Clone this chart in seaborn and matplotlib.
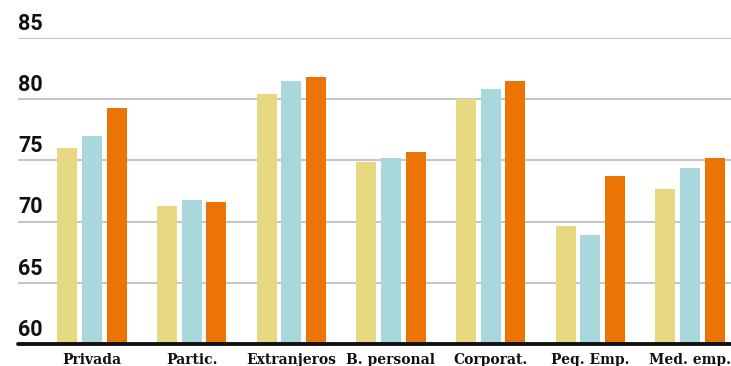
import matplotlib
matplotlib.use("Agg")
import matplotlib.pyplot as plt
import seaborn as sns
import pandas as pd

# Data
categories = ["Privada", "Partic.", "Extranjeros", "B. personal", "Corporat.", "Peq. Emp.", "Med. emp."]
serie_1 = [76.0, 71.3, 80.4, 74.9, 80.0, 69.6, 72.7]
serie_2 = [77.0, 71.8, 81.5, 75.2, 80.8, 68.9, 74.4]
serie_3 = [79.3, 71.6, 81.8, 75.7, 81.5, 73.7, 75.2]
series_names = ["Serie 1", "Serie 2", "Serie 3"]
y_ticks = [60, 65, 70, 75, 80, 85]

colors = ["#E6D981", "#A8D8DC", "#EB7405"]

df = pd.DataFrame({
    "categoria": categories * 3,
    "valor": serie_1 + serie_2 + serie_3,
    "serie": [series_names[0]] * 7 + [series_names[1]] * 7 + [series_names[2]] * 7,
})

sns.set_theme(style="white")
fig = plt.figure(figsize=(7.31, 3.66), dpi=100)
ax = fig.add_axes([18 / 731, 22 / 366, 713 / 731, 306 / 366])

sns.barplot(data=df, x="categoria", y="valor", hue="serie", order=categories,
            hue_order=series_names, palette=colors, width=0.74, gap=0.19,
            saturation=1, errorbar=None, legend=False, ax=ax, zorder=3,
            linewidth=0, edgecolor="none")

ax.set_ylim(60, 85)
ax.set_xlim(-0.742, 6.411)
ax.set_yticks(y_ticks)
ax.set_yticklabels([])
ax.tick_params(axis="y", length=0, left=False, labelleft=False)
ax.yaxis.grid(True, color="#c6c6c6", linewidth=1.5, zorder=0)
ax.xaxis.grid(False)
ax.set_axisbelow(True)
for s in ax.spines.values():
    s.set_visible(False)
ax.axhline(60, color="#111111", linewidth=2.8, zorder=5, clip_on=False)

# y labels sit above their gridlines, left aligned
for v in y_ticks:
    ax.annotate(str(v), xy=(0, v), xycoords=("axes fraction", "data"),
                xytext=(0, 2.3), textcoords="offset points",
                ha="left", va="bottom", fontsize=15.5, fontweight="bold",
                family="Roboto", color="#111111", annotation_clip=False)

ax.set_xlabel("")
ax.set_ylabel("")
ax.tick_params(axis="x", length=0, pad=6.5)
for lbl in ax.get_xticklabels():
    lbl.set_fontfamily("DejaVu Serif")
    lbl.set_fontweight("bold")
    lbl.set_fontsize(10)
    lbl.set_color("#111111")

fig.savefig("out.png", dpi=100)
